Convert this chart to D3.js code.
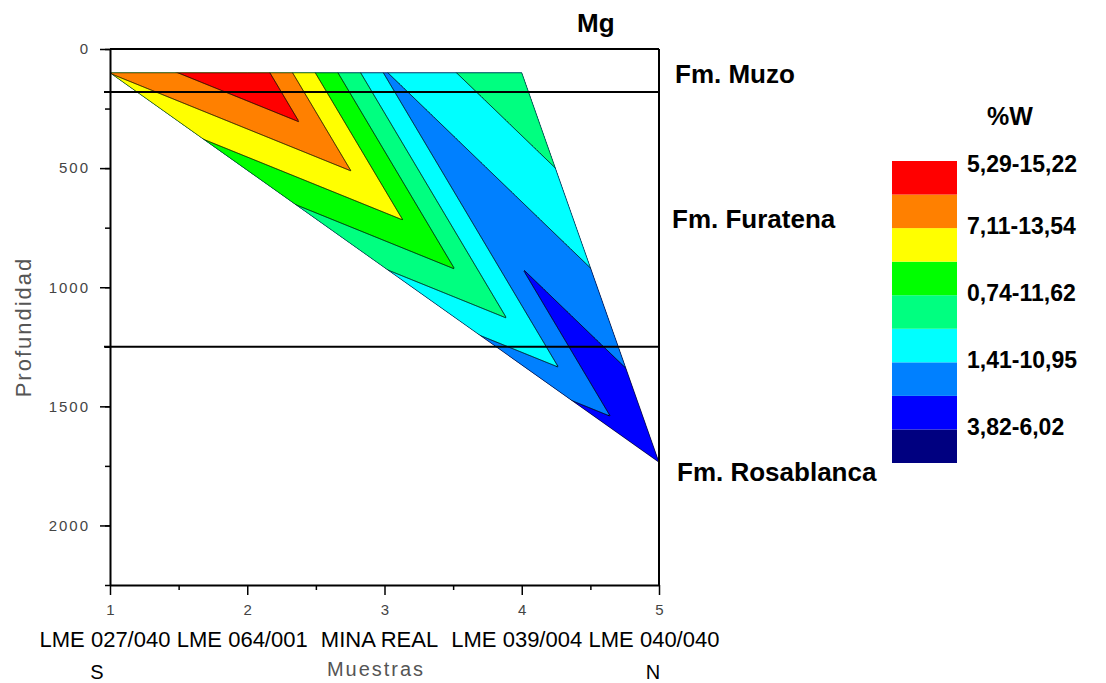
<!DOCTYPE html>
<html>
<head>
<meta charset="utf-8">
<script src="https://cdn.jsdelivr.net/npm/d3@7"></script>
<style>
  body { margin: 0; background: #fff; }
  svg { display: block; font-family: "Liberation Sans", Arial, sans-serif; }
</style>
</head>
<body>
<svg id="chart" width="1106" height="683"></svg>
<script>
// Samples along the S-N transect: position, depth and Mg class level
const sampleNames = ["LME 027/040", "LME 064/001", "MINA REAL", "LME 039/004", "LME 040/040"];
const samplePos = [1, 2, 3, 4, 5];
const sampleDepth = [100, 100, 100, 100, 1735];
const sampleLevel = [7.02, 9.0, 2.95, 4.95, 1.06];

// Contour classes, low to high
const classThresholds = [0, 1, 2, 3, 4, 5, 6, 7, 8];
const classColors = ["#000080", "#0000ff", "#0080ff", "#00ffff", "#00ff80", "#00ff00", "#ffff00", "#ff8000", "#ff0000"];
const legendLabels = ["5,29-15,22", "7,11-13,54", "0,74-11,62", "1,41-10,95", "3,82-6,02"];

// Formations and their boundaries (depth)
const formationNames = ["Fm. Muzo", "Fm. Furatena", "Fm. Rosablanca"];
const formationBreaks = [180, 1250];

const depthTicks = [0, 500, 1000, 1500, 2000];
const depthMinorTicks = d3.range(0, 2251, 250);
const posTicks = [1, 2, 3, 4, 5];
const posMinorTicks = [1.5, 2.5, 3.5, 4.5];

const svg = d3.select("#chart");

const x = d3.scaleLinear().domain([1, 5]).range([110, 659]);
const y = d3.scaleLinear().domain([0, 2250]).range([49, 585]);

// Triangulate the samples (pixel space) and interpolate linearly on a grid
const pts = samplePos.map((p, i) => [x(p), y(sampleDepth[i])]);
const delaunay = d3.Delaunay.from(pts);
const tris = [];
for (let t = 0; t < delaunay.triangles.length; t += 3) {
    tris.push([delaunay.triangles[t], delaunay.triangles[t + 1], delaunay.triangles[t + 2]]);
}

function levelAt(px, py) {
    let best = null, bestMin = -Infinity;
    tris.forEach(tr => {
        const [a, b, c] = tr.map(k => pts[k]);
        const det = (b[1] - c[1]) * (a[0] - c[0]) + (c[0] - b[0]) * (a[1] - c[1]);
        const l1 = ((b[1] - c[1]) * (px - c[0]) + (c[0] - b[0]) * (py - c[1])) / det;
        const l2 = ((c[1] - a[1]) * (px - c[0]) + (a[0] - c[0]) * (py - c[1])) / det;
        const l3 = 1 - l1 - l2;
        const m = Math.min(l1, l2, l3);
        if (m > bestMin) {
            bestMin = m;
            best = l1 * sampleLevel[tr[0]] + l2 * sampleLevel[tr[1]] + l3 * sampleLevel[tr[2]];
        }
    });
    return best;
}

const pad = 4;
const x0 = Math.floor(d3.min(pts, d => d[0])) - pad;
const y0 = Math.floor(d3.min(pts, d => d[1])) - pad;
const n = Math.ceil(d3.max(pts, d => d[0])) - x0 + pad;
const m = Math.ceil(d3.max(pts, d => d[1])) - y0 + pad;
const values = new Float64Array(n * m);
for (let j = 0; j < m; j++) {
    for (let i = 0; i < n; i++) {
        values[j * n + i] = levelAt(x0 + i + 0.5, y0 + j + 0.5);
    }
}

const contours = d3.contours().size([n, m]).thresholds(classThresholds)(values);
const path = d3.geoPath();
const hull = delaunay.hullPolygon();

svg.append("clipPath").attr("id", "hullClip")
    .append("path").attr("d", "M" + hull.join("L") + "Z");

const plot = svg.append("g").attr("clip-path", "url(#hullClip)")
    .append("g").attr("transform", `translate(${x0},${y0})`);

plot.selectAll("path.band")
    .data(contours)
    .join("path")
    .attr("class", "band")
    .attr("d", path)
    .attr("fill", (d, i) => classColors[i]);

plot.selectAll("path.iso")
    .data(contours.slice(1))
    .join("path")
    .attr("class", "iso")
    .attr("d", path)
    .attr("fill", "none")
    .attr("stroke", "#000")
    .attr("stroke-width", 0.9);

svg.append("path")
    .attr("d", "M" + hull.join("L") + "Z")
    .attr("fill", "none")
    .attr("stroke", "#000")
    .attr("stroke-opacity", 0.7)
    .attr("stroke-width", 0.8);

// Frame and formation boundaries
svg.append("line")
    .attr("x1", x(1)).attr("x2", x(5)).attr("y1", y(0)).attr("y2", y(0))
    .attr("stroke", "#000").attr("stroke-width", 2);
svg.append("line")
    .attr("x1", x(5)).attr("x2", x(5)).attr("y1", y(0)).attr("y2", y(2250))
    .attr("stroke", "#000").attr("stroke-width", 2);
svg.selectAll("line.fm")
    .data(formationBreaks)
    .join("line")
    .attr("class", "fm")
    .attr("x1", x(1) - 6).attr("x2", x(5))
    .attr("y1", d => y(d)).attr("y2", d => y(d))
    .attr("stroke", "#000").attr("stroke-width", 2);

// Axes
function styleAxis(g) {
    g.select(".domain").attr("stroke", "#000").attr("stroke-width", 2);
    g.selectAll(".tick line").attr("stroke", "#000").attr("stroke-width", 1.5);
}

svg.append("g")
    .attr("transform", `translate(${x(1)},0)`)
    .call(d3.axisLeft(y).tickValues(depthMinorTicks).tickSize(5).tickSizeOuter(0).tickFormat(""))
    .call(styleAxis);
svg.append("g")
    .attr("transform", `translate(${x(1)},0)`)
    .call(d3.axisLeft(y).tickValues(depthTicks).tickSize(10).tickSizeOuter(0).tickPadding(10).tickFormat(d3.format("d")))
    .call(styleAxis)
    .call(g => g.select(".domain").remove())
    .call(g => g.selectAll(".tick text")
        .attr("font-size", 15).attr("fill", "#444")
        .attr("font-family", "Liberation Sans, Arial, sans-serif")
        .style("letter-spacing", "2px"));

svg.append("g")
    .attr("transform", `translate(0,${y(2250)})`)
    .call(d3.axisBottom(x).tickValues(posMinorTicks).tickSize(5).tickSizeOuter(0).tickFormat(""))
    .call(styleAxis);
svg.append("g")
    .attr("transform", `translate(0,${y(2250)})`)
    .call(d3.axisBottom(x).tickValues(posTicks).tickSize(10).tickSizeOuter(0).tickPadding(9).tickFormat(d3.format("d")))
    .call(styleAxis)
    .call(g => g.select(".domain").remove())
    .call(g => g.selectAll(".tick text")
        .attr("font-size", 15).attr("fill", "#444")
        .attr("font-family", "Liberation Sans, Arial, sans-serif"));

// Sample names under the x axis
svg.selectAll("text.sample")
    .data(sampleNames)
    .join("text")
    .attr("class", "sample")
    .attr("x", (d, i) => x(samplePos[i]) - 5)
    .attr("y", 647)
    .attr("text-anchor", "middle")
    .attr("font-size", 22)
    .attr("fill", "#000")
    .text(d => d);

svg.append("text")
    .attr("x", 376).attr("y", 676)
    .attr("text-anchor", "middle")
    .attr("font-size", 20).attr("fill", "#555")
    .style("letter-spacing", "2px")
    .text("Muestras");

svg.append("text").attr("x", 97).attr("y", 679).attr("text-anchor", "middle")
    .attr("font-size", 20).text("S");
svg.append("text").attr("x", 653).attr("y", 679).attr("text-anchor", "middle")
    .attr("font-size", 20).text("N");

svg.append("text")
    .attr("transform", "translate(31,327) rotate(-90)")
    .attr("text-anchor", "middle")
    .attr("font-size", 22).attr("fill", "#555")
    .style("letter-spacing", "2px")
    .text("Profundidad");

// Title and formation labels
svg.append("text").attr("x", 577).attr("y", 32)
    .attr("font-size", 26).attr("font-weight", "bold").text("Mg");

const fmLabelY = [83, 228, 481];
const fmLabelX = [675, 672, 677];
svg.selectAll("text.fmlabel")
    .data(formationNames)
    .join("text")
    .attr("class", "fmlabel")
    .attr("x", (d, i) => fmLabelX[i])
    .attr("y", (d, i) => fmLabelY[i])
    .attr("font-size", 26).attr("font-weight", "bold")
    .text(d => d);

// Legend
const ly = d3.scaleLinear().domain([0, classColors.length]).range([463, 161]);
const legend = svg.append("g");
legend.selectAll("rect")
    .data(classColors)
    .join("rect")
    .attr("x", 892).attr("width", 65)
    .attr("y", (d, i) => ly(i + 1))
    .attr("height", (d, i) => ly(i) - ly(i + 1))
    .attr("fill", d => d);

legend.append("text").attr("x", 987).attr("y", 125)
    .attr("font-size", 25).attr("font-weight", "bold").text("%W");

legend.selectAll("text.lab")
    .data(legendLabels)
    .join("text")
    .attr("class", "lab")
    .attr("x", 967)
    .attr("y", (d, i) => ly(classColors.length - 2 * i) + (i === 0 ? 11 : 6))
    .attr("font-size", 23).attr("font-weight", "bold")
    .text(d => d);
</script>
</body>
</html>
